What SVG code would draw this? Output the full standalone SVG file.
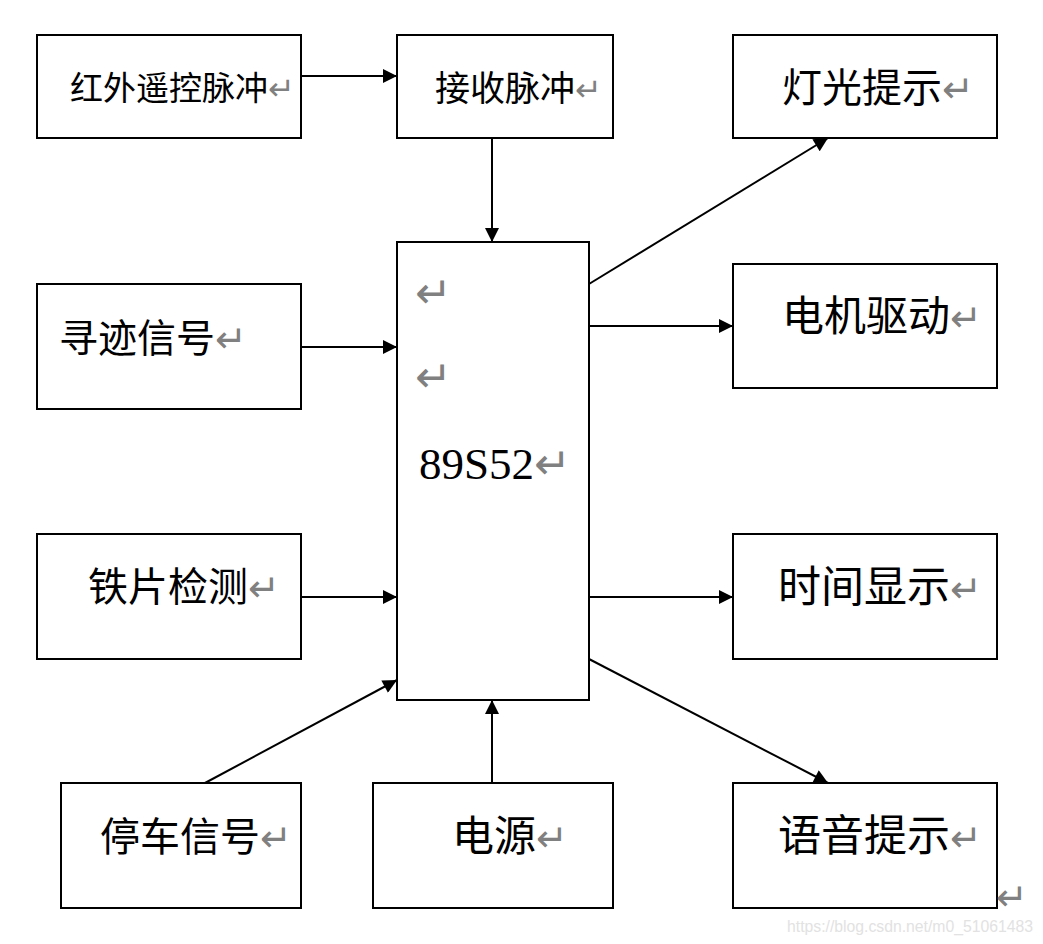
<svg xmlns="http://www.w3.org/2000/svg" width="1043" height="944" viewBox="0 0 1043 944">
<style>
.box{fill:#fff;stroke:#000;stroke-width:2}
.lbl{font-family:"Liberation Serif","Noto Sans CJK SC",serif;fill:#000}
.ret{font-family:"DejaVu Sans",sans-serif;fill:#808080}
.con{stroke:#000;stroke-width:2;fill:none;marker-end:url(#ah)}
</style>
<defs>
<marker id="ah" viewBox="0 0 10 10" refX="10" refY="5" markerWidth="8" markerHeight="7" markerUnits="strokeWidth" orient="auto">
<path d="M0,0 L10,5 L0,10 z" fill="#000"/>
</marker>
</defs>
<rect width="1043" height="944" fill="#fff"/>
<g id="connectors">
<line class="con" x1="301" y1="76" x2="397" y2="76"/>
<line class="con" x1="492" y1="138" x2="492" y2="242"/>
<line class="con" x1="589" y1="284" x2="828" y2="138"/>
<line class="con" x1="589" y1="326" x2="733" y2="326"/>
<line class="con" x1="301" y1="347" x2="397" y2="347"/>
<line class="con" x1="301" y1="597" x2="397" y2="597"/>
<line class="con" x1="589" y1="597" x2="733" y2="597"/>
<line class="con" x1="205" y1="783" x2="397" y2="680"/>
<line class="con" x1="492" y1="783" x2="492" y2="700"/>
<line class="con" x1="589" y1="659" x2="828" y2="783"/>
</g>
<g id="n_ir">
<rect class="box" x="37" y="35" width="264" height="103"/>
<text class="lbl" x="70" y="100" font-size="33">红外遥控脉冲<tspan class="ret" font-size="32">↵</tspan></text>
</g>
<g id="n_recv">
<rect class="box" x="397" y="35" width="216" height="103"/>
<text class="lbl" x="435" y="101" font-size="35">接收脉冲<tspan class="ret" font-size="32">↵</tspan></text>
</g>
<g id="n_light">
<rect class="box" x="733" y="35" width="264" height="103"/>
<text class="lbl" x="782" y="102" font-size="40">灯光提示<tspan class="ret" font-size="38">↵</tspan></text>
</g>
<g id="n_track">
<rect class="box" x="37" y="284" width="264" height="125"/>
<text class="lbl" x="59" y="352" font-size="39">寻迹信号<tspan class="ret" font-size="38">↵</tspan></text>
</g>
<g id="n_mcu">
<rect class="box" x="397" y="242" width="192" height="458"/>
<text class="ret" x="415" y="308" font-size="44">↵</text>
<text class="ret" x="415" y="392" font-size="44">↵</text>
<text class="lbl" x="419" y="479" font-size="45">89S52<tspan class="ret" font-size="44">↵</tspan></text>
</g>
<g id="n_motor">
<rect class="box" x="733" y="264" width="264" height="124"/>
<text class="lbl" x="782" y="331" font-size="42">电机驱动<tspan class="ret" font-size="38">↵</tspan></text>
</g>
<g id="n_iron">
<rect class="box" x="37" y="534" width="264" height="125"/>
<text class="lbl" x="88" y="601" font-size="40">铁片检测<tspan class="ret" font-size="38">↵</tspan></text>
</g>
<g id="n_time">
<rect class="box" x="733" y="534" width="264" height="125"/>
<text class="lbl" x="778" y="602" font-size="43">时间显示<tspan class="ret" font-size="38">↵</tspan></text>
</g>
<g id="n_stop">
<rect class="box" x="61" y="783" width="240" height="125"/>
<text class="lbl" x="100" y="851" font-size="40">停车信号<tspan class="ret" font-size="38">↵</tspan></text>
</g>
<g id="n_power">
<rect class="box" x="373" y="783" width="240" height="125"/>
<text class="lbl" x="452" y="851" font-size="42">电源<tspan class="ret" font-size="38">↵</tspan></text>
</g>
<g id="n_voice">
<rect class="box" x="733" y="783" width="264" height="125"/>
<text class="lbl" x="778" y="851" font-size="43">语音提示<tspan class="ret" font-size="38">↵</tspan></text>
</g>
<text class="ret" x="996" y="910" font-size="38">↵</text>
<text x="787" y="932" font-family="Liberation Sans, sans-serif" font-size="16" fill="#e2e2e2" textLength="246" lengthAdjust="spacingAndGlyphs">https://blog.csdn.net/m0_51061483</text>
</svg>
